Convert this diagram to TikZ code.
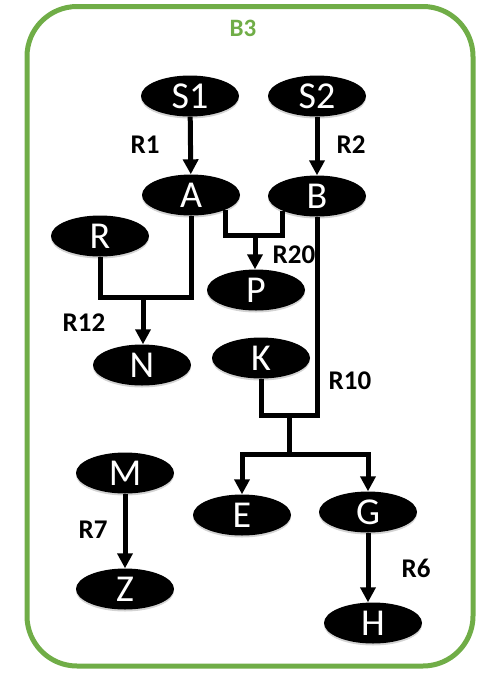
\documentclass[tikz,border=0pt]{standalone}
\usepackage{fontspec}
\setmainfont{Carlito}
\usetikzlibrary{shapes.geometric,arrows.meta,shadows}
\definecolor{bgreen}{HTML}{70AD47}
\tikzset{
  ell/.style={ellipse, fill=black, minimum width=98pt, minimum height=41pt, inner sep=0pt,
    text=white, font=\fontsize{38}{38}\selectfont,
    drop shadow={shadow xshift=0pt, shadow yshift=-2pt, opacity=0.35}},
  lbl/.style={font=\fontsize{27}{27}\selectfont\bfseries, text=black, inner sep=0pt},
  conn/.style={line width=5pt, line join=miter, black},
  arr/.style={conn, -{Triangle[length=15pt,width=15pt]}}
}
\begin{document}
\begin{tikzpicture}[x=1pt,y=-1pt]
\useasboundingbox (0,0) rectangle (477,673);
\draw[bgreen, line width=5pt, rounded corners=50pt] (27,6.5) rectangle (473,666);
\node[font=\fontsize{25}{25}\selectfont\bfseries, text=bgreen] (title) at (243,28) {B3};
% nodes
\node[ell] (S1) at (190,96) {S1};
\node[ell] (S2) at (317,96) {S2};
\node[ell] (A) at (191,195) {A};
\node[ell] (B) at (317,196) {B};
\node[ell] (R) at (100,236) {R};
\node[ell] (P) at (256,290) {P};
\node[ell] (N) at (142,365) {N};
\node[ell] (K) at (261,358) {K};
\node[ell] (M) at (125,473) {M};
\node[ell] (E) at (242,515) {E};
\node[ell] (G) at (368,512) {G};
\node[ell] (Z) at (125,589) {Z};
\node[ell] (H) at (373,623) {H};
% labels
\node[lbl] (r1) at (145,145) {R1};
\node[lbl] (r2) at (351,145) {R2};
\node[lbl] (r20) at (294,255) {R20};
\node[lbl] (r12) at (84,323) {R12};
\node[lbl] (r10) at (350,381) {R10};
\node[lbl] (r7) at (93,530) {R7};
\node[lbl] (r6) at (416,568) {R6};
% junction coordinates
\coordinate (jp) at (255,235);
\coordinate (jn) at (143,297);
\coordinate (jk) at (289,415);
\coordinate (je) at (289,454);
% connectors
\draw[arr] (S1) -- (A);
\draw[arr] (S2) -- (B);
\draw[conn] (A.south east) |- (jp) -| (B.south west);
\draw[arr] (jp) -- (jp |- P.north);
\draw[conn] (R.south) |- (jn) -| (A.south);
\draw[arr] (jn) -- (jn |- N.north);
\draw[conn] (K.south) |- (jk) -| (B.south);
\draw[conn] (jk) -- (je);
\draw[arr] (je) -| (E.north);
\draw[arr] (je) -| (G.north);
\draw[arr] (M) -- (Z);
\draw[arr] (G.south) -- (G.south |- H.north);
\end{tikzpicture}
\end{document}
